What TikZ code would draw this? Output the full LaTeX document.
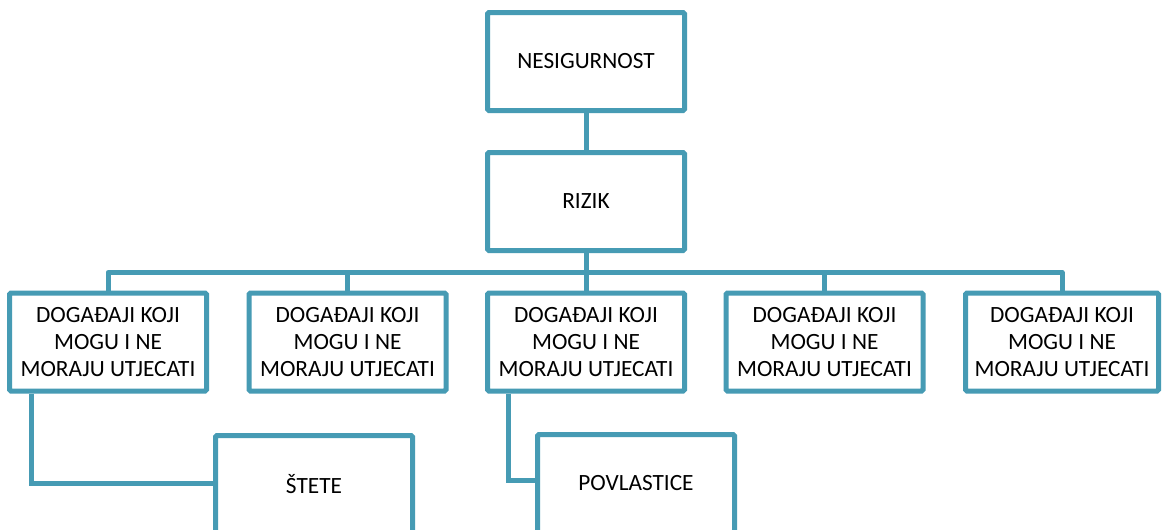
\documentclass[tikz,border=0pt]{standalone}
\usepackage{fontspec}
\setmainfont{Carlito}
\definecolor{teal1}{RGB}{70,155,180}
\tikzset{
  box/.style={draw=teal1, line width=5pt, fill=white, rounded corners=1.5pt,
    minimum width=197pt, minimum height=98pt, inner sep=0pt, align=center,
    font=\fontsize{23.3}{26.7}\selectfont},
  conn/.style={draw=teal1, line width=5pt},
}
\begin{document}
\begin{tikzpicture}[x=1pt,y=-1pt]
\clip (0,0) rectangle (1162,530);
\fill[white] (0,0) rectangle (1162,530);
\coordinate (bus) at (586,272.5);
\node[box] (nes) at (586,61.5) {NESIGURNOST};
\node[box] (riz) at (586,201.5) {RIZIK};
\node[box] (d1) at (108,342) {DOGAĐAJI KOJI\\MOGU I NE\\MORAJU UTJECATI};
\node[box] (d2) at (347.5,342) {DOGAĐAJI KOJI\\MOGU I NE\\MORAJU UTJECATI};
\node[box] (d3) at (586,342) {DOGAĐAJI KOJI\\MOGU I NE\\MORAJU UTJECATI};
\node[box] (d4) at (824.5,342) {DOGAĐAJI KOJI\\MOGU I NE\\MORAJU UTJECATI};
\node[box, minimum width=193pt] (d5) at (1062,342) {DOGAĐAJI KOJI\\MOGU I NE\\MORAJU UTJECATI};
\node[box] (st) at (314,484.5) {ŠTETE};
\node[box] (pov) at (636,483.5) {POVLASTICE};
\draw[conn] (nes.south) -- (riz.north);
\draw[conn] (riz.south) -- (bus);
\draw[conn, line join=round] (d1.north) |- (d5.north |- bus) -- (d5.north);
\draw[conn] (d2.north) -- (d2.north |- bus);
\draw[conn] (d3.north) -- (d3.north |- bus);
\draw[conn] (d4.north) -- (d4.north |- bus);
\draw[conn] ([xshift=-77pt]d1.south) |- ([yshift=0.8pt]st.west);
\draw[conn] ([xshift=-78pt]d3.south) |- ([yshift=2.8pt]pov.west);
\end{tikzpicture}
\end{document}
